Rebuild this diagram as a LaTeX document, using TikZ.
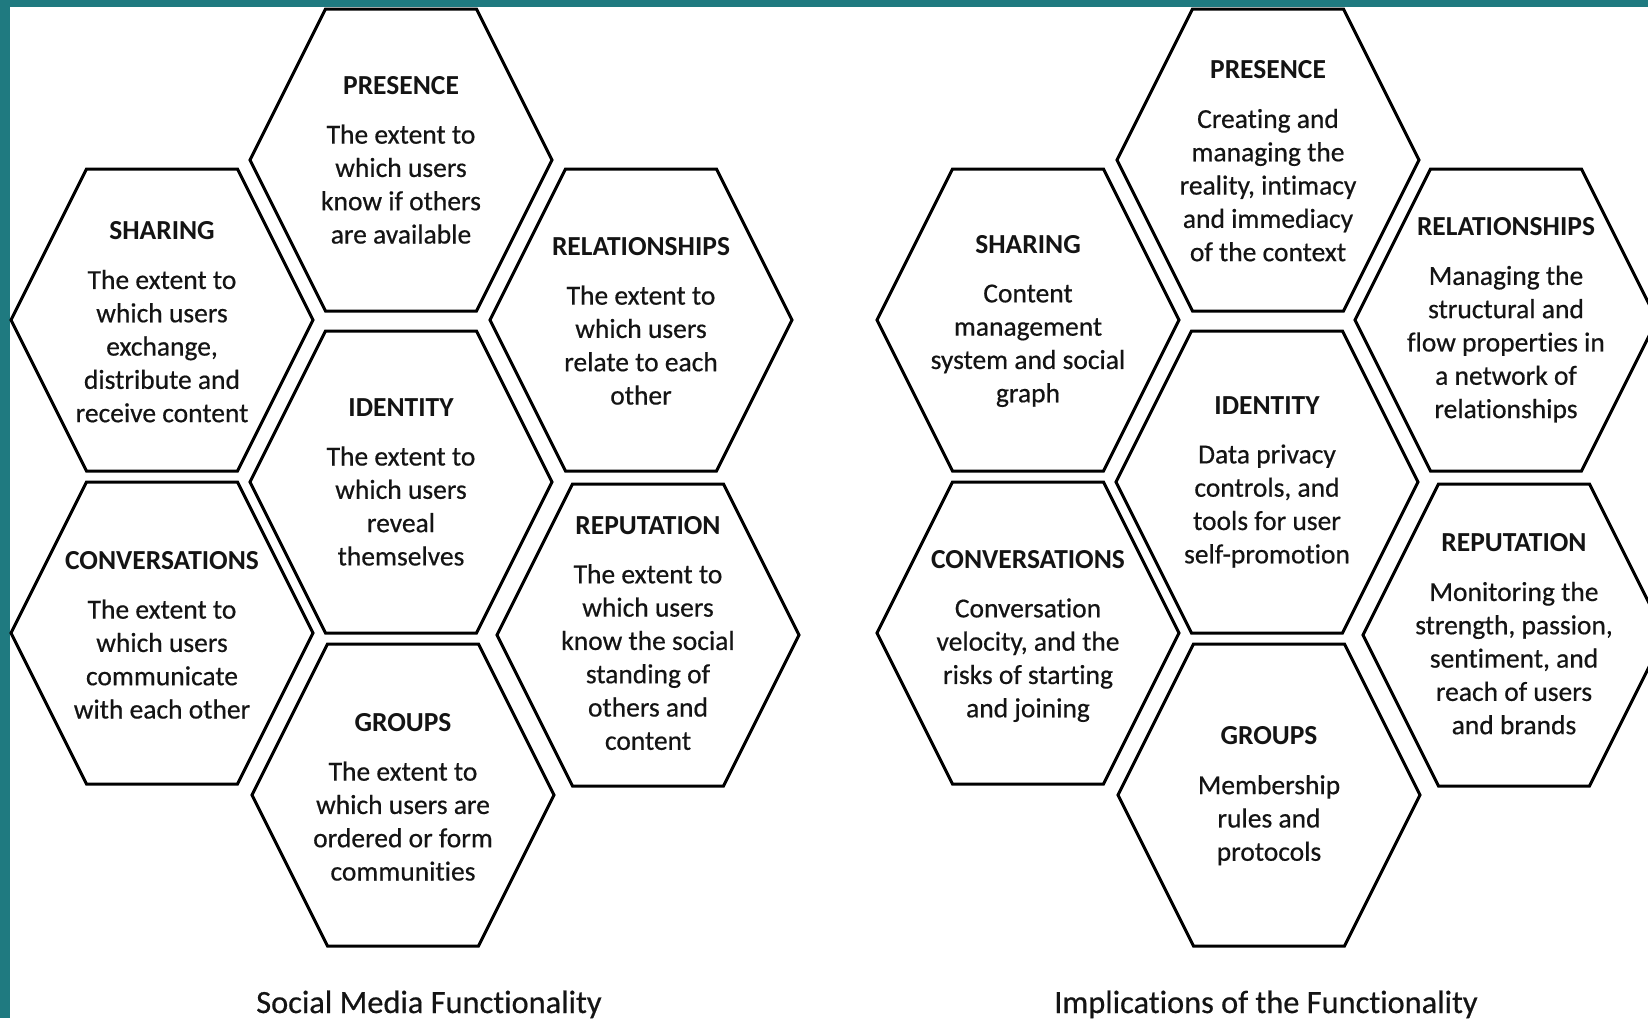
\documentclass[tikz,border=0pt]{standalone}
\usepackage{fontspec}
\setmainfont{Carlito}[Ligatures=NoCommon]
\newfontfamily\cellfont{Carlito}[Ligatures=NoCommon,FakeBold=0.5]
\definecolor{frameteal}{HTML}{1F7A80}
\newcommand\celltitle[1]{{\normalfont\bfseries #1}\\[8pt]}
\begin{document}
\begin{tikzpicture}[x=0.5pt,y=-0.5pt,
  hexline/.style={draw=black,line width=1.5pt,line join=miter},
  celltext/.style={align=center,inner sep=0pt,text=black!92,
    font=\fontsize{13.75}{16.65}\selectfont\cellfont},
  caption/.style={anchor=base,inner sep=0pt,text=black!92,
    font=\fontsize{16.2}{19}\selectfont\cellfont},
  hexcell/.pic={\path[hexline] (-75.5,-151) -- (75.5,-151) -- (151,0)
    -- (75.5,151) -- (-75.5,151) -- (-151,0) -- cycle;}
]
\useasboundingbox (0,0) rectangle (1648,1018);
\clip (0,0) rectangle (1648,1018);
\fill[white] (0,0) rectangle (1648,1018);
% teal frame along the top and left
\fill[frameteal] (0,0) rectangle (1648,7);
\fill[frameteal] (0,0) rectangle (10,1018);

% ---------- left honeycomb: functionality ----------
\pic at (401,160) {hexcell};
\pic at (162,320) {hexcell};
\pic at (641,320) {hexcell};
\pic at (401,482) {hexcell};
\pic at (162,633) {hexcell};
\pic at (648,635) {hexcell};
\pic at (403,795) {hexcell};

\node[celltext] (lpres) at (401,160) {\celltitle{PRESENCE}The extent to\\which users\\know if others\\are available};
\node[celltext] (lshar) at (162,322) {\celltitle{SHARING}The extent to\\which users\\exchange,\\distribute and\\receive content};
\node[celltext] (lrela) at (641,321) {\celltitle{RELATIONSHIPS}The extent to\\which users\\relate to each\\other};
\node[celltext] (liden) at (401,482) {\celltitle{IDENTITY}The extent to\\which users\\reveal\\themselves};
\node[celltext] (lconv) at (162,635) {\celltitle{CONVERSATIONS}The extent to\\which users\\communicate\\with each other};
\node[celltext] (lrepu) at (648,633) {\celltitle{REPUTATION}The extent to\\which users\\know the social\\standing of\\others and\\content};
\node[celltext] (lgrou) at (403,797) {\celltitle{GROUPS}The extent to\\which users are\\ordered or form\\communities};

\node[caption] (lcap) at (429,1013) {Social Media Functionality};

% ---------- right honeycomb: implications ----------
\pic at (1268,160) {hexcell};
\pic at (1028,320) {hexcell};
\pic at (1506,320) {hexcell};
\pic at (1267,482) {hexcell};
\pic at (1028,633) {hexcell};
\pic at (1514,635) {hexcell};
\pic at (1269,795) {hexcell};

\node[celltext] (rpres) at (1268,161) {\celltitle{PRESENCE}Creating and\\managing the\\reality, intimacy\\and immediacy\\of the context};
\node[celltext] (rshar) at (1028,321) {\celltitle{SHARING}Content\\management\\system and social\\graph};
\node[celltext] (rrela) at (1506,320) {\celltitle{RELATIONSHIPS}Managing the\\structural and\\flow properties in\\a network of\\relationships};
\node[celltext] (riden) at (1267,482) {\celltitle{IDENTITY}Data privacy\\controls, and\\tools for user\\self-promotion};
\node[celltext] (rconv) at (1028,636) {\celltitle{CONVERSATIONS}Conversation\\velocity, and the\\risks of starting\\and joining};
\node[celltext] (rrepu) at (1514,634) {\celltitle{REPUTATION}Monitoring the\\strength, passion,\\sentiment, and\\reach of users\\and brands};
\node[celltext] (rgrou) at (1269,796) {\celltitle{GROUPS}Membership\\rules and\\protocols};

\node[caption] (rcap) at (1266,1013) {Implications of the Functionality};
\end{tikzpicture}
\end{document}
